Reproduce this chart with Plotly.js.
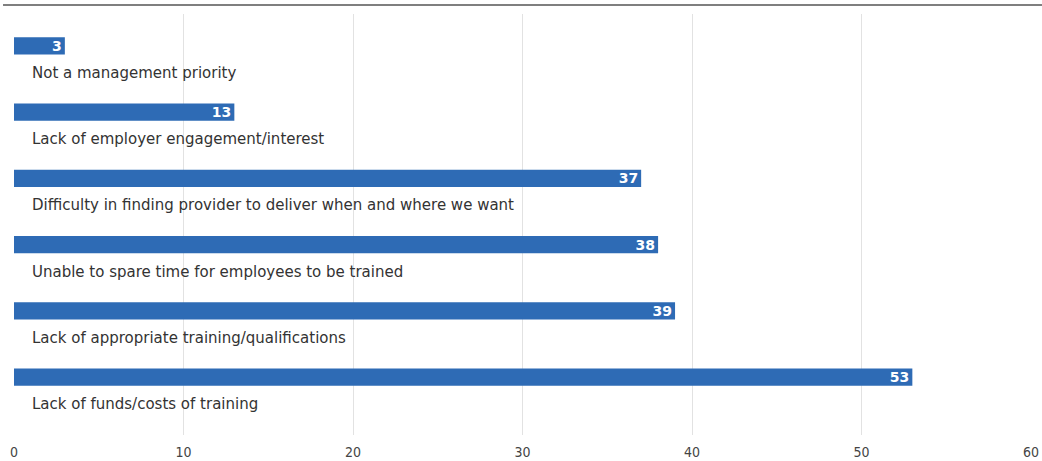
<!DOCTYPE html>
<html>
<head>
<meta charset="utf-8">
<script src="https://cdn.plot.ly/plotly-3.0.1.min.js"></script>
<style>
html,body{margin:0;padding:0;background:#fff;}
#chart{width:1042px;height:461px;}
</style>
</head>
<body>
<div id="chart"></div>
<script>
var categories = [
  "Not a management priority",
  "Lack of employer engagement/interest",
  "Difficulty in finding provider to deliver when and where we want",
  "Unable to spare time for employees to be trained",
  "Lack of appropriate training/qualifications",
  "Lack of funds/costs of training"
];
var values = [3, 13, 37, 38, 39, 53];
var xTicks = [0, 10, 20, 30, 40, 50, 60];

var trace = {
  type: 'bar',
  orientation: 'h',
  x: values,
  y: categories,
  width: 0.26,
  marker: {color: '#2e6bb5'},
  text: values.map(String),
  textposition: 'inside',
  insidetextanchor: 'end',
  textangle: 0,
  constraintext: 'none',
  textfont: {family: 'DejaVu Sans, sans-serif', size: 14, color: '#ffffff', weight: 'bold'},
  hoverinfo: 'none',
  cliponaxis: false
};

var annotations = categories.map(function(c){
  return {
    x: 0, y: c, xref: 'x', yref: 'y',
    text: c, showarrow: false,
    xanchor: 'left', yanchor: 'middle',
    xshift: 16, yshift: -27,
    font: {family: 'DejaVu Sans, sans-serif', size: 15, color: '#333333'}
  };
});

var layout = {
  width: 1042, height: 461,
  margin: {l: 14, r: 11, t: 14, b: 26},
  paper_bgcolor: '#ffffff',
  plot_bgcolor: '#ffffff',
  showlegend: false,
  xaxis: {
    range: [0, 60],
    tickvals: xTicks,
    ticktext: xTicks.map(String),
    showgrid: true, gridcolor: '#e2e2e2', gridwidth: 1,
    zeroline: false, showline: false, ticks: '',
    ticklabelstandoff: 7,
    tickfont: {family: 'DejaVu Sans Condensed, DejaVu Sans, sans-serif', size: 14, color: '#444444'},
    fixedrange: true
  },
  yaxis: {
    type: 'category',
    categoryorder: 'array',
    categoryarray: categories,
    range: [5.875, -0.483],
    showticklabels: false,
    showgrid: false, zeroline: false, showline: false, ticks: '',
    fixedrange: true
  },
  annotations: annotations,
  shapes: [{
    type: 'line', xref: 'paper', yref: 'paper',
    x0: -0.0108, x1: 1.0108, y0: 1.0214, y1: 1.0214,
    line: {color: '#7f7f7f', width: 2}
  }]
};

Plotly.newPlot('chart', [trace], layout, {displayModeBar: false, staticPlot: true});
</script>
</body>
</html>
